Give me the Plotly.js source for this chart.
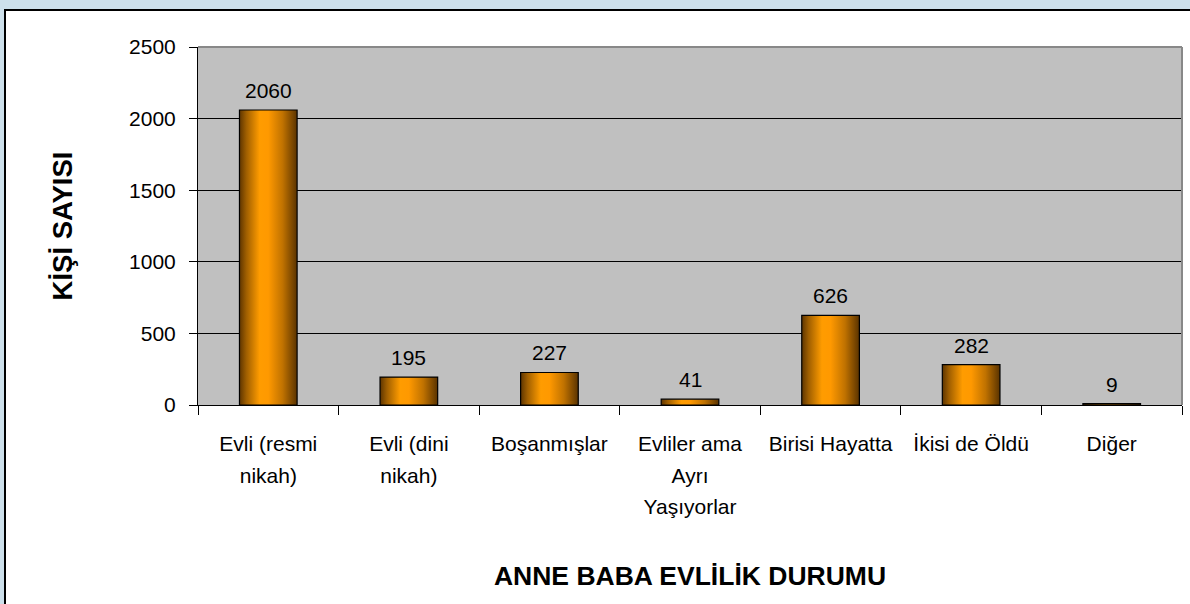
<!DOCTYPE html>
<html>
<head>
<meta charset="utf-8">
<script src="https://cdn.plot.ly/plotly-3.0.1.min.js"></script>
<style>
  html, body { margin:0; padding:0; width:1190px; height:604px; overflow:hidden; background:#cde0eb; }
  #frame { position:absolute; left:4px; top:9px; width:1200px; height:620px; background:#ffffff; border-left:2px solid #000; border-top:2px solid #000; }
  #chart { position:absolute; left:0; top:0; width:1190px; height:604px; }
</style>
</head>
<body>
<div id="frame"></div>
<div id="chart"></div>
<script>
const categories = ["Evli (resmi<br>nikah)", "Evli (dini<br>nikah)", "Boşanmışlar", "Evliler ama<br>Ayrı<br>Yaşıyorlar", "Birisi Hayatta", "İkisi de Öldü", "Diğer"];
const values = [2060, 195, 227, 41, 626, 282, 9];
const yTicks = [0, 500, 1000, 1500, 2000, 2500];
const xTitle = "ANNE BABA EVLİLİK DURUMU";
const yTitle = "KİŞİ SAYISI";

const font = "Liberation Sans, Arial, sans-serif";

const trace = {
  type: "bar",
  x: categories,
  y: values,
  marker: { color: "#ff9900", line: { color: "#000000", width: 1.2 } },
  width: 0.41,
  hoverinfo: "none"
};

const annotations = values.map((v, i) => ({
  x: categories[i], y: v, xref: "x", yref: "y",
  text: String(v), showarrow: false, yanchor: "bottom", yshift: 6,
  font: { family: font, size: 21, color: "#000" }
}));

const layout = {
  width: 1190, height: 604,
  margin: { l: 198, r: 8, t: 47, b: 199 },
  paper_bgcolor: "rgba(0,0,0,0)",
  plot_bgcolor: "#c0c0c0",
  showlegend: false,
  font: { family: font, size: 21, color: "#000" },
  xaxis: {
    type: "category",
    tickson: "boundaries",
    ticks: "outside", ticklen: 9, tickcolor: "#000", tickwidth: 1,
    showline: true, linecolor: "#000", linewidth: 1,
    showgrid: false,
    tickfont: { family: font, size: 21, color: "#000" },
    ticklabelstandoff: 20,
    title: { text: xTitle, font: { family: font, size: 26.5, color: "#000", weight: "bold" }, standoff: 57 },
    automargin: false
  },
  yaxis: {
    range: [0, 2500],
    tickvals: yTicks,
    ticks: "outside", ticklen: 8, tickcolor: "#000", tickwidth: 1,
    showline: true, linecolor: "#000", linewidth: 1,
    showgrid: true, gridcolor: "#000", gridwidth: 1,
    zeroline: false,
    tickfont: { family: font, size: 21, color: "#000" },
    ticklabelstandoff: 9,
    title: { text: yTitle, font: { family: font, size: 27.5, color: "#000", weight: "bold" }, standoff: 48 },
    automargin: false
  },
  shapes: [
    { type: "line", xref: "paper", yref: "paper", x0: 0, x1: 1, y0: 1, y1: 1, line: { color: "#888888", width: 2 }, layer: "above" },
    { type: "line", xref: "paper", yref: "paper", x0: 1, x1: 1, y0: 0, y1: 1, line: { color: "#888888", width: 2 }, layer: "above" }
  ],
  annotations: annotations
};

Plotly.newPlot("chart", [trace], layout, { staticPlot: true, displayModeBar: false }).then(gd => {
  const svg = gd.querySelector("svg.main-svg");
  const ns = "http://www.w3.org/2000/svg";
  let defs = svg.querySelector("defs");
  if (!defs) { defs = document.createElementNS(ns, "defs"); svg.insertBefore(defs, svg.firstChild); }
  const g = document.createElementNS(ns, "linearGradient");
  g.setAttribute("id", "barGrad");
  g.setAttribute("x1", "0"); g.setAttribute("x2", "1"); g.setAttribute("y1", "0"); g.setAttribute("y2", "0");
  [["0%", "#5e3500"], ["12%", "#a05f00"], ["35%", "#ff9c00"], ["50%", "#ff9900"], ["75%", "#c07200"], ["100%", "#5a3300"]].forEach(([o, c]) => {
    const s = document.createElementNS(ns, "stop");
    s.setAttribute("offset", o); s.setAttribute("stop-color", c);
    g.appendChild(s);
  });
  defs.appendChild(g);
  gd.querySelectorAll(".trace.bars .point path").forEach(p => { p.style.fill = "url(#barGrad)"; });
  // widen line spacing of multi-line category labels
  gd.querySelectorAll(".xtick text tspan.line").forEach(t => {
    const dy = t.getAttribute("dy");
    if (dy && dy.endsWith("em")) {
      const v = parseFloat(dy);
      if (v > 0) t.setAttribute("dy", (v * 1.5 / 1.3).toFixed(3) + "em");
    }
  });
});
</script>
</body>
</html>
